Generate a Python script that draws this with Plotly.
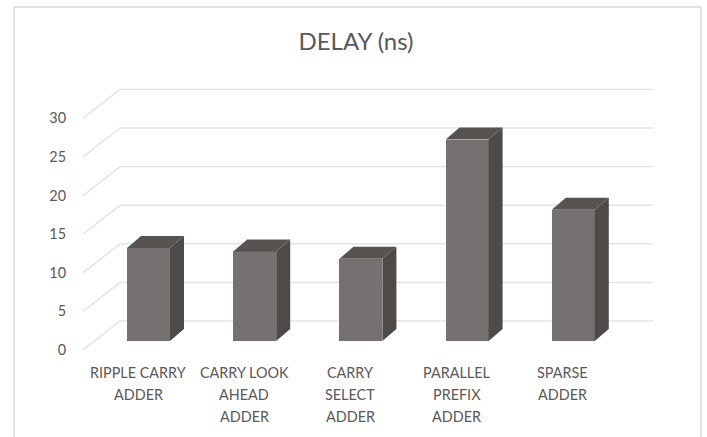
import plotly.graph_objects as go

categories = ["RIPPLE CARRY\nADDER", "CARRY LOOK\nAHEAD\nADDER", "CARRY\nSELECT\nADDER", "PARALLEL\nPREFIX\nADDER", "SPARSE\nADDER"]
delay = [12.05, 11.6, 10.65, 26.1, 17.0]
y_ticks = [0, 5, 10, 15, 20, 25, 30]

W, H = 707, 437
L, R, T, B = 83, 660, 80, 350
PX_X, PX_Y = 106.2, 7.72
x_range = [(L - 138) / PX_X, (R - 138) / PX_X]
y_range = [0, (B - T) / PX_Y]

# projection offsets, axis units
wall_dx, wall_dy = 37 / PX_X, 29 / PX_Y
bar_shift = 10.5 / PX_X
bar_w = 43 / PX_X
base = 9 / PX_Y
depth_dx, depth_dy = 14 / PX_X, 12 / PX_Y
wall_end = (653 - 138) / PX_X

FRONT, SIDE, TOP = "#757170", "#4e4a48", "#575351"
GRID = "#e4e4e4"
TEXT = "#595959"
FONT = "Lato"

fig = go.Figure()
xs = list(range(len(categories)))

fig.add_trace(go.Bar(x=[i + bar_shift for i in xs], y=delay, base=base, width=bar_w,
                     marker=dict(color=FRONT, line=dict(width=0)), showlegend=False))

for i, v in zip(xs, delay):
    x0 = i + bar_shift - bar_w / 2
    x1 = i + bar_shift + bar_w / 2
    top = base + v
    fig.add_trace(go.Scatter(
        x=[x1, x1 + depth_dx, x1 + depth_dx, x1, x1],
        y=[base, base + depth_dy, top + depth_dy, top, base],
        mode="lines", fill="toself", fillcolor=SIDE, line=dict(width=0),
        showlegend=False, hoverinfo="skip"))
    fig.add_trace(go.Scatter(
        x=[x0, x1, x1 + depth_dx, x0 + depth_dx, x0],
        y=[top, top, top + depth_dy, top + depth_dy, top],
        mode="lines", fill="toself", fillcolor=TOP, line=dict(width=0),
        showlegend=False, hoverinfo="skip"))

shapes = []
grid_line = dict(color=GRID, width=1.5)
for t in y_ticks:
    shapes.append(dict(type="line", layer="below", xref="x", yref="y", x0=x_range[0], y0=t,
                       x1=x_range[0] + wall_dx, y1=t + wall_dy, line=grid_line))
    shapes.append(dict(type="line", layer="below", xref="x", yref="y", x0=x_range[0] + wall_dx, y0=t + wall_dy,
                       x1=wall_end, y1=t + wall_dy, line=grid_line))

# chart frame, open at the bottom edge of the picture
pw, ph = R - L, B - T
fx = lambda px: (px - L) / pw
fy = lambda py: (B - py) / ph
frame = dict(color="#d9d9d9", width=1.5)
shapes.append(dict(type="line", xref="paper", yref="paper", x0=fx(14), x1=fx(14), y0=fy(7), y1=fy(437), line=frame))
shapes.append(dict(type="line", xref="paper", yref="paper", x0=fx(701), x1=fx(701), y0=fy(7), y1=fy(437), line=frame))
shapes.append(dict(type="line", xref="paper", yref="paper", x0=fx(14), x1=fx(701), y0=fy(7), y1=fy(7), line=frame))

annotations = []
for i, cat in zip(xs, categories):
    for j, line in enumerate(cat.split("\n")):
        annotations.append(dict(text=line, x=i, xref="x", y=0, yref="paper", yanchor="middle", xanchor="center",
                                yshift=-(22 + 22 * j), showarrow=False, font=dict(family=FONT, size=14.4, color=TEXT)))

fig.update_layout(
    width=W, height=H, autosize=False,
    margin=dict(l=L, r=W - R, t=T, b=H - B),
    paper_bgcolor="white", plot_bgcolor="rgba(0,0,0,0)",
    title=dict(text="DELAY (ns)", x=356 / W, xanchor="center", y=1 - 42 / H, yanchor="middle",
               font=dict(family=FONT, size=24, color=TEXT)),
    xaxis=dict(range=x_range, showgrid=False, zeroline=False, showline=False, showticklabels=False,
               ticks="", fixedrange=True),
    yaxis=dict(range=y_range, tickvals=y_ticks, showgrid=False, zeroline=False, showline=False, ticks="",
               ticklabelstandoff=16, tickfont=dict(family=FONT, size=14.4, color=TEXT), fixedrange=True),
    shapes=shapes, annotations=annotations, showlegend=False, bargap=0,
)
fig.write_html("out.html", config=dict(displayModeBar=False),
               post_script="document.body.style.margin='0';document.body.style.overflow='hidden';")
